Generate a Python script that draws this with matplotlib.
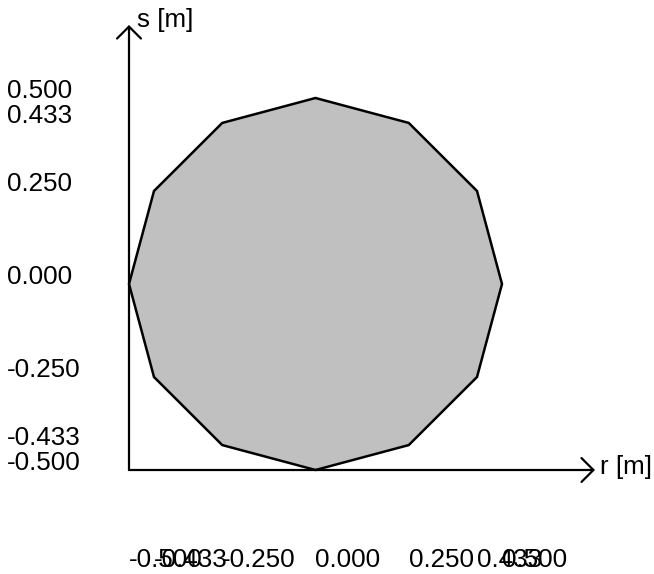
import numpy as np
import matplotlib
matplotlib.use("Agg")
import matplotlib.pyplot as plt
from matplotlib.patches import Polygon, FancyArrowPatch

# Data: regular 12-gon cross-section vertices
r_vals = [0.5, 0.433, 0.25, 0.0, -0.25, -0.433, -0.5, -0.433, -0.25, 0.0, 0.25, 0.433]
s_vals = [0.0, 0.25, 0.433, 0.5, 0.433, 0.25, 0.0, -0.25, -0.433, -0.5, -0.433, -0.25]
r_ticks = [-0.5, -0.433, -0.25, 0.0, 0.25, 0.433, 0.5]
r_tick_labels = ["-0.500", "-0.433", "-0.250", "0.000", "0.250", "0.433", "0.500"]
s_ticks = [0.5, 0.433, 0.25, 0.0, -0.25, -0.433, -0.5]
s_tick_labels = ["0.500", "0.433", "0.250", "0.000", "-0.250", "-0.433", "-0.500"]

W, H = 654, 574
fig = plt.figure(figsize=(W / 100, H / 100), dpi=100)
ax = fig.add_axes([0, 0, 1, 1])

# pixel mapping
cx, sx = 315.5, 373.0   # r=0 at x px, px per unit
cy, sy = 284.0, 372.0   # s=0 at y px (from top), px per unit
ax.set_xlim(-cx / sx, (W - cx) / sx)
ax.set_ylim((cy - H) / sy, cy / sy)
ax.axis("off")

def px_r(x):
    return (x - cx) / sx

def px_s(y):
    return (cy - y) / sy

font = "Liberation Sans"
fs = 18.7

poly = Polygon(np.column_stack([r_vals, s_vals]), closed=True,
               facecolor="#c0c0c0", edgecolor="black", lw=1.8, joinstyle="miter")
ax.add_patch(poly)

rmin, smin = min(r_ticks), min(s_ticks)
arrow_kw = dict(arrowstyle="->,head_length=8.6,head_width=8.6", mutation_scale=1,
                lw=1.6, color="black", shrinkA=0, shrinkB=0, clip_on=False)
ax.add_patch(FancyArrowPatch((rmin, smin), (rmin, px_s(25)), **arrow_kw))
ax.add_patch(FancyArrowPatch((rmin, smin), (px_r(595), smin), **arrow_kw))

ax.text(px_r(137), px_s(27), "s [m]", fontsize=fs, family=font, va="baseline", ha="left")
ax.text(px_r(600), px_s(474), "r [m]", fontsize=fs, family=font, va="baseline", ha="left")

for v, lab in zip(s_ticks, s_tick_labels):
    ax.text(px_r(7), v, lab, fontsize=fs, family=font, va="baseline", ha="left")
for v, lab in zip(r_ticks, r_tick_labels):
    ax.text(v, px_s(567), lab, fontsize=fs, family=font, va="baseline", ha="left")

fig.savefig("out.png", dpi=100)
